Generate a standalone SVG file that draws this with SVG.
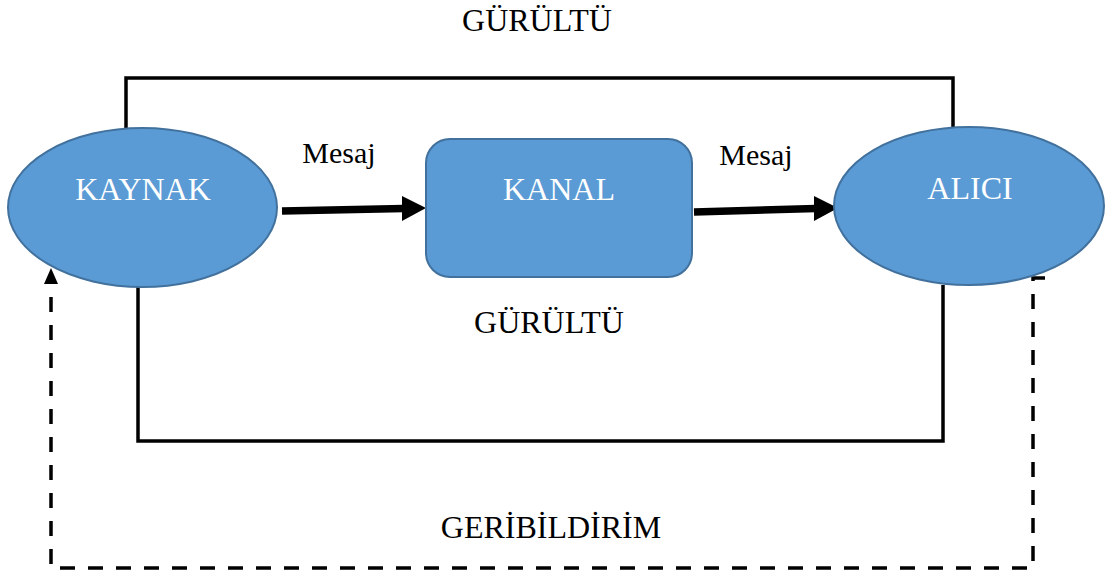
<svg xmlns="http://www.w3.org/2000/svg" width="1109" height="578" viewBox="0 0 1109 578">
<style>
.node{fill:#5B9BD5;stroke:#41719C;stroke-width:2}
.nt{font-family:"Liberation Serif","Times New Roman",serif;font-size:32px;fill:#fff;text-anchor:middle}
.lb{font-family:"Liberation Serif","Times New Roman",serif;font-size:32px;fill:#000;text-anchor:middle}
.ms{font-size:30px}
.ln{fill:none;stroke:#000;stroke-width:3.5}
.dash{fill:none;stroke:#000;stroke-width:3.5;stroke-dasharray:15 13}
.thick{fill:none;stroke:#000;stroke-width:7.5}
.head{fill:#000}
</style>
<g id="connectors">
<path class="ln" d="M126,128 V78 H953 V127"/>
<path class="ln" d="M138,287 V441 H943 V285"/>
<path class="thick" d="M282,211 L404,208.5"/>
<path class="head" d="M402,196 L426,208 L402,221 Z"/>
<path class="thick" d="M694,212 L816,208.5"/>
<path class="head" d="M814,196 L838,208 L814,221 Z"/>
<path class="dash" d="M1045,278 H1033 V568 H51 V284"/>
<path class="head" d="M44,284 L51,268 L58,284 Z"/>
</g>
<g id="kaynak">
<ellipse class="node" cx="142.5" cy="207.5" rx="134.5" ry="79.5"/>
<text class="nt" x="143" y="200">KAYNAK</text>
</g>
<g id="kanal">
<rect class="node" x="426" y="139" width="266" height="138" rx="24"/>
<text class="nt" x="559" y="200">KANAL</text>
</g>
<g id="alici">
<ellipse class="node" cx="969" cy="206" rx="135" ry="79"/>
<text class="nt" x="970" y="199">ALICI</text>
</g>
<g id="labels">
<text class="lb" x="537" y="31">GÜRÜLTÜ</text>
<text class="lb" x="549" y="333">GÜRÜLTÜ</text>
<text class="lb" x="551" y="538">GERİBİLDİRİM</text>
<text class="lb ms" x="339" y="163">Mesaj</text>
<text class="lb ms" x="756" y="165">Mesaj</text>
</g>
</svg>
